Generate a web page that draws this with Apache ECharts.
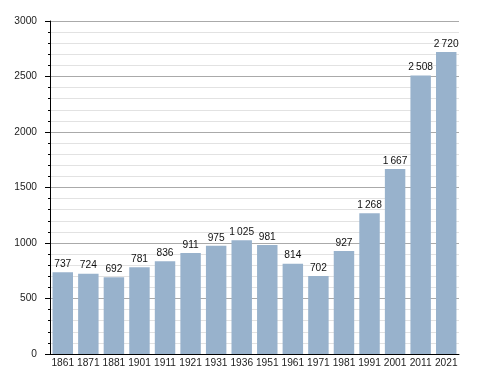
<!DOCTYPE html>
<html><head><meta charset="utf-8">
<script src="https://cdn.jsdelivr.net/npm/echarts@6/dist/echarts.min.js"></script>
<style>html,body{margin:0;padding:0;background:#fff}#c{width:488px;height:373px}</style>
</head><body><div id="c"></div>
<script>
const categories = ['1861','1871','1881','1901','1911','1921','1931','1936','1951','1961','1971','1981','1991','2001','2011','2021'];
const population = [737,724,692,781,836,911,975,1025,981,814,702,927,1268,1667,2508,2720];
const yTicks = [0,500,1000,1500,2000,2500,3000];

function fmt(v){ return String(v).replace(/\B(?=(\d{3})+(?!\d))/g, '\u2009'); }

const chart = echarts.init(document.getElementById('c'), null, {renderer:'canvas'});
chart.setOption({
  animation:false,
  textStyle:{fontFamily:'Liberation Sans, Arial, sans-serif'},
  grid:{left:50, right:29, top:21, bottom:19, containLabel:false},
  xAxis:{
    type:'category', data:categories,
    axisLine:{show:true, lineStyle:{color:'#000', width:1}},
    axisTick:{show:false},
    axisLabel:{color:'#222', fontSize:10.2, margin:4, interval:0}
  },
  yAxis:{
    type:'value', min:yTicks[0], max:yTicks[yTicks.length-1], interval:500,
    axisLine:{show:true, lineStyle:{color:'#000', width:1}},
    axisTick:{show:true, length:5, lineStyle:{color:'#000'}},
    minorTick:{show:true, splitNumber:5, length:2, lineStyle:{color:'#000'}},
    splitLine:{show:true, lineStyle:{color:'#aaaaaa', width:1}},
    minorSplitLine:{show:true, lineStyle:{color:'#e2e2e2', width:1}},
    axisLabel:{color:'#222', fontSize:10.2, margin:13, formatter:v=>String(v)}
  },
  series:[{
    type:'bar', data:population, barCategoryGap:'20%',
    itemStyle:{color:'#98b2cc'},
    label:{show:true, position:'top', distance:3, color:'#111', fontSize:10.2,
      formatter:p=>fmt(p.value)}
  }]
});
</script></body></html>
